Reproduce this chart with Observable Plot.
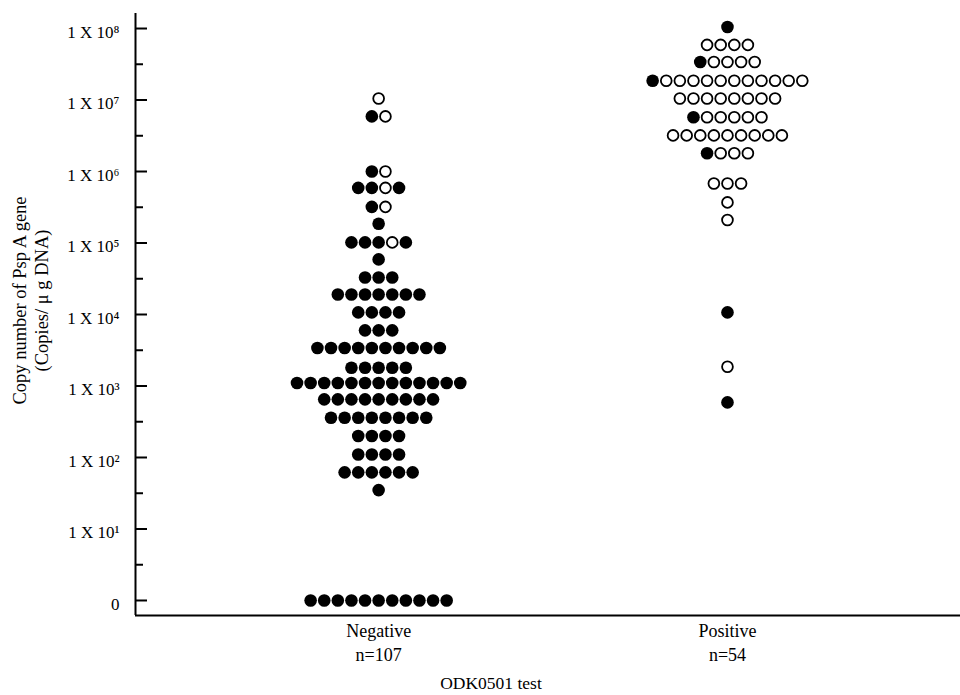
<!DOCTYPE html>
<html>
<head>
<meta charset="utf-8">
<script src="https://cdn.jsdelivr.net/npm/d3@7"></script>
<script src="https://cdn.jsdelivr.net/npm/@observablehq/plot@0.6"></script>
<style>
  html, body { margin: 0; padding: 0; background: #fff; }
  #chart svg { display: block; }
</style>
</head>
<body>
<div id="chart"></div>
<script>
// ---- data ----
const groups = ["Negative", "Positive"];
const groupN = [107, 54];
const xTitle = "ODK0501 test";
const yTitle = "Copy number of Psp A gene\n(Copies/ \u03bc g DNA)";

const yTickValues = [1, 1e1, 1e2, 1e3, 1e4, 1e5, 1e6, 1e7, 1e8];
const yTickLabels = ["0", "1 X 10\u00b9", "1 X 10\u00b2", "1 X 10\u00b3", "1 X 10\u2074",
                     "1 X 10\u2075", "1 X 10\u2076", "1 X 10\u2077", "1 X 10\u2078"];
const yMinorTicks = [10**0.5, 10**1.5, 10**2.5, 10**3.5, 10**4.5, 10**5.5, 10**6.5, 10**7.5];

// Negative group: copy number per row, and the row's dots left to right (F = filled, O = open)
const negCopies = [1.05e7, 5.9e6, 1.0e6, 5.9e5, 3.2e5, 1.86e5, 1.02e5, 5.9e4, 3.3e4, 1.9e4, 1.07e4,
                   6.0e3, 3.4e3, 1.8e3, 1.1e3, 6.5e2, 3.6e2, 2.0e2, 1.1e2, 62, 35, 0];
const negDots = ["O", "FO", "FO", "FFOF", "FO", "F", "FFFOF", "F", "FFF", "FFFFFFF", "FFFF",
                 "FFF", "FFFFFFFFFF", "FFFFF", "FFFFFFFFFFFFF", "FFFFFFFFF", "FFFFFFFF", "FFFF", "FFFF",
                 "FFFFFF", "F", "FFFFFFFFFFF"];

// Positive group
const posCopies = [1.05e8, 5.9e7, 3.4e7, 1.86e7, 1.05e7, 5.75e6, 3.2e6, 1.8e6, 6.8e5, 3.7e5, 2.1e5,
                   1.07e4, 1.86e3, 5.9e2];
const posDots = ["F", "OOOO", "FOOOO", "FOOOOOOOOOOO", "OOOOOOOO", "FOOOOO", "OOOOOOOOO", "FOOO",
                 "OOO", "O", "O", "F", "O", "F"];

// ---- layout (derived) ----
const step = 0.039;                 // dot spacing in group units
const xDomain = [-0.697, 1.668];
const yDomain = [10 ** -0.21, 10 ** 8.21];

function buildPoints(gi, copies, dots) {
  const out = [];
  copies.forEach((c, r) => {
    const p = dots[r];
    const n = p.length;
    for (let i = 0; i < n; i++) {
      out.push({group: gi, copies: c, slot: i - (n - 1) / 2, filled: p[i] === "F"});
    }
  });
  return out;
}
const points = [...buildPoints(0, negCopies, negDots), ...buildPoints(1, posCopies, posDots)];
const X = d => d.group + d.slot * step;
const Y = d => (d.copies === 0 ? 1 : d.copies);

const chart = Plot.plot({
  width: 960,
  height: 695,
  marginLeft: 135,
  marginRight: 0,
  marginTop: 13,
  marginBottom: 80,
  style: {
    fontFamily: "'Liberation Serif', 'Times New Roman', serif",
    fontSize: "17px",
    color: "#000",
    background: "#fff"
  },
  x: {type: "linear", domain: xDomain, axis: null},
  y: {type: "log", domain: yDomain, axis: null},
  marks: [
    // inward major ticks
    Plot.axisY(yTickValues, {anchor: "left", tickSize: -12, tickFormat: () => "", strokeWidth: 2, label: null}),
    // inward minor ticks
    Plot.axisY(yMinorTicks, {anchor: "left", tickSize: -8, tickFormat: () => "", strokeWidth: 2, label: null}),
    // tick labels
    Plot.axisY(yTickValues, {
      anchor: "left", tickSize: 0, tickPadding: 16, dy: 4, fontSize: 17,
      tickFormat: v => yTickLabels[yTickValues.indexOf(v)], label: null
    }),
    // axis lines
    Plot.ruleX([xDomain[0]], {stroke: "#000", strokeWidth: 2}),
    Plot.ruleY([yDomain[0]], {stroke: "#000", strokeWidth: 2}),
    // category labels
    Plot.axisX([0, 1], {
      anchor: "bottom", tickSize: 0, tickPadding: 5, fontSize: 18, lineHeight: 1.3,
      tickFormat: i => `${groups[i]}\nn=${groupN[i]}`, label: null
    }),
    // dots
    Plot.dot(points.filter(d => d.filled), {x: X, y: Y, r: 6.3, fill: "#000", stroke: "none"}),
    Plot.dot(points.filter(d => !d.filled), {x: X, y: Y, r: 5.4, fill: "#fff", stroke: "#000", strokeWidth: 1.8}),
    // titles
    Plot.text([yTitle], {frameAnchor: "left", textAnchor: "middle", rotate: -90, dx: -106, dy: -14,
                         fontSize: 18.5, lineHeight: 1.2, fill: "#000"}),
    Plot.text([xTitle], {frameAnchor: "bottom", textAnchor: "middle", dx: -57, dy: 73, fontSize: 17.5, fill: "#000"})
  ]
});
document.getElementById("chart").appendChild(chart);
</script>
</body>
</html>
